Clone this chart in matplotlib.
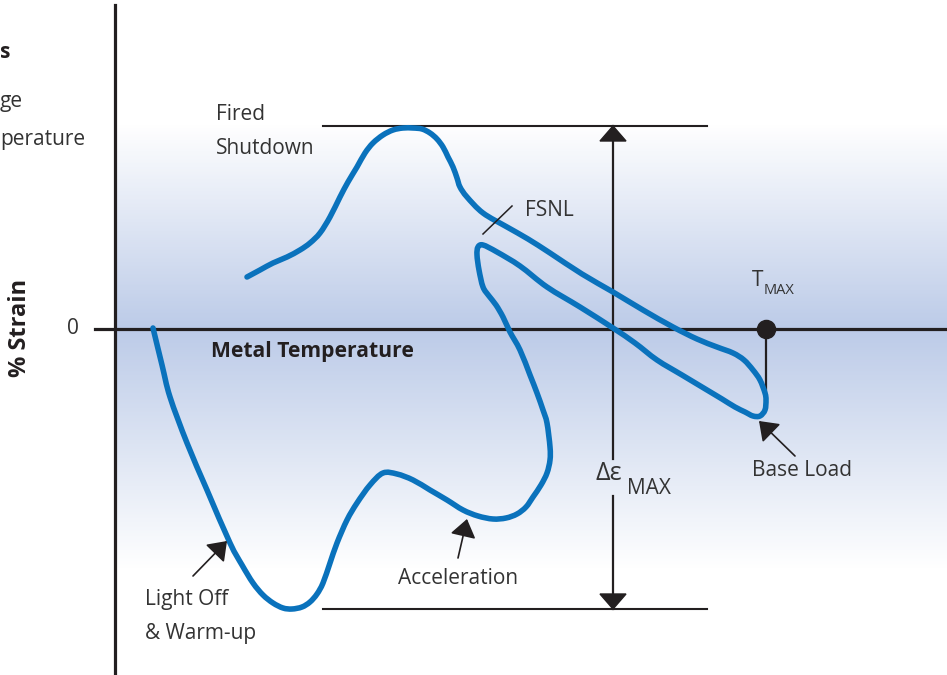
import numpy as np
import matplotlib.pyplot as plt
from matplotlib.colors import LinearSegmentedColormap
from matplotlib.path import Path
from matplotlib.patches import PathPatch

plt.rcParams['font.family'] = ['Open Sans', 'DejaVu Sans']

# strain-temperature loop (x = temperature, y = strain, screen units)
loop_x = [153, 162, 170, 187, 207, 230, 242, 253, 263, 273, 283, 292, 302, 310,
          317, 323, 330, 337, 347, 357, 370, 383, 397, 413, 430, 447, 463, 478, 493, 506,
          517, 526, 533, 541, 547, 550, 550, 547, 543, 537, 530, 520, 510, 503, 496, 489,
          483, 479, 477, 478, 483, 497, 520, 547, 580, 613, 635, 657, 682, 707, 722,
          735, 745, 753, 760, 765, 766, 765, 760, 753, 744, 733, 717, 697, 673, 643, 613,
          582, 550, 528, 507, 483, 467, 460, 457, 453, 448, 443, 437, 430, 422, 413, 403,
          393, 383, 373, 365, 357, 348, 340, 330, 320, 310, 300, 287, 273, 260, 247]
loop_y = [328, 365, 397, 443, 490, 543, 565, 583, 595, 603, 608, 609, 607, 602,
          594, 583, 563, 543, 520, 503, 485, 473, 474, 480, 490, 500, 510, 516, 519, 518,
          514, 507, 497, 485, 473, 460, 447, 423, 410, 393, 375, 350, 332, 317, 305, 296,
          287, 270, 255, 247, 245, 252, 266, 287, 307, 328, 343, 360, 375, 390, 399,
          407, 412, 416, 416, 410, 400, 393, 380, 370, 360, 353, 347, 339, 327, 310, 292,
          274, 253, 239, 227, 213, 197, 187, 178, 167, 157, 147, 139, 133, 129, 128, 128,
          130, 135, 143, 153, 167, 182, 197, 217, 233, 243, 250, 257, 263, 270, 277]

zero_y = 329
top_y = 126
bottom_y = 609
t_max = 766
t_max_strain = 405
range_x = 613

ink = '#231f20'
grey = '#333333'

fig = plt.figure(figsize=(9.47, 6.75), dpi=100)
ax = fig.add_axes([0, 0, 1, 1])
ax.set_xlim(0, 947)
ax.set_ylim(675, 0)
ax.axis('off')

# background band
cmap = LinearSegmentedColormap.from_list(
    'band', [(0, '#ffffff'), (206 / 447, '#bccbe8'), (1, '#ffffff')])
grad = np.linspace(0, 1, 400).reshape(-1, 1)
ax.imshow(grad, cmap=cmap, aspect='auto', extent=[115, 947, 570, 123], zorder=0)

# axes
ax.plot([115, 115], [5, 675], color=ink, lw=2.3, zorder=3)
ax.plot([95, 947], [zero_y, zero_y], color=ink, lw=2.3, zorder=3)

# range lines
ax.plot([323, 707], [top_y, top_y], color=ink, lw=1.5, zorder=3)
ax.plot([323, 707], [bottom_y, bottom_y], color=ink, lw=1.5, zorder=3)
ax.plot([range_x, range_x], [top_y, 459], color=ink, lw=1.6, zorder=3)
ax.plot([range_x, range_x], [496, bottom_y], color=ink, lw=1.6, zorder=3)
for tip, base in [(top_y, top_y + 15), (bottom_y, bottom_y - 15)]:
    ax.fill([range_x - 13, range_x + 13, range_x], [base, base, tip], color=ink, zorder=4)

# loop drawn as a smooth bezier path through the traced points
pts = np.column_stack([loop_x, loop_y]).astype(float)
verts = [pts[0]]
codes = [Path.MOVETO]
for i in range(len(pts) - 1):
    p0 = pts[max(i - 1, 0)]
    p1 = pts[i]
    p2 = pts[i + 1]
    p3 = pts[min(i + 2, len(pts) - 1)]
    verts += [p1 + (p2 - p0) / 6, p2 - (p3 - p1) / 6, p2]
    codes += [Path.CURVE4] * 3
ax.add_patch(PathPatch(Path(verts, codes), facecolor='none', edgecolor='#0a72bc', lw=4.0,
                       capstyle='round', joinstyle='round', zorder=5))

# T max marker
ax.plot([t_max, t_max], [zero_y, t_max_strain], color=ink, lw=1.6, zorder=4)
ax.scatter([t_max], [zero_y], s=170, color=ink, zorder=6)

# FSNL tick
ax.plot([483, 512], [234, 206], color=ink, lw=1.1, zorder=6)

arrow = dict(arrowstyle='-|>,head_length=0.55,head_width=0.4', color=ink, lw=1.2,
             mutation_scale=20, shrinkA=0, shrinkB=0)
ax.annotate('', xy=(227, 541), xytext=(193, 576), arrowprops=arrow, zorder=6)
ax.annotate('', xy=(467, 519), xytext=(458, 558), arrowprops=arrow, zorder=6)
ax.annotate('', xy=(759, 421), xytext=(795, 456), arrowprops=arrow, zorder=6)

txt = dict(color=grey, fontsize=15, zorder=7, va='center')
ax.text(216, 115, 'Fired', **txt)
ax.text(216, 148, 'Shutdown', **txt)
ax.text(525, 210, 'FSNL', **txt)
ax.text(752, 281, 'T', **txt)
ax.text(764, 290, 'MAX', color=grey, fontsize=10.5, va='center', zorder=7)
ax.text(752, 470, 'Base Load', **txt)
ax.text(596, 474, 'Δε', color=grey, fontsize=18, va='center', zorder=7)
ax.text(627, 489, 'MAX', **txt)
ax.text(398, 578, 'Acceleration', **txt)
ax.text(145, 600, 'Light Off', **txt)
ax.text(145, 634, '& Warm-up', **txt)
ax.text(79, 329, '0', ha='right', **txt)
ax.text(211, 352, 'Metal Temperature', va='center', fontsize=15.2, fontweight='bold',
        color=ink)
ax.text(20, 328, '% Strain', va='center', ha='center', rotation=90, fontsize=17,
        fontweight='bold', color=ink)

# fragments of the neighbouring legend, clipped in the original
ax.text(0, 52, 's', ha='left', va='center', fontsize=15, fontweight='bold', color=ink)
ax.text(0, 102, 'ge', ha='left', **txt)
ax.text(0, 139, 'perature', ha='left', **txt)

fig.savefig('out.png', dpi=100)
